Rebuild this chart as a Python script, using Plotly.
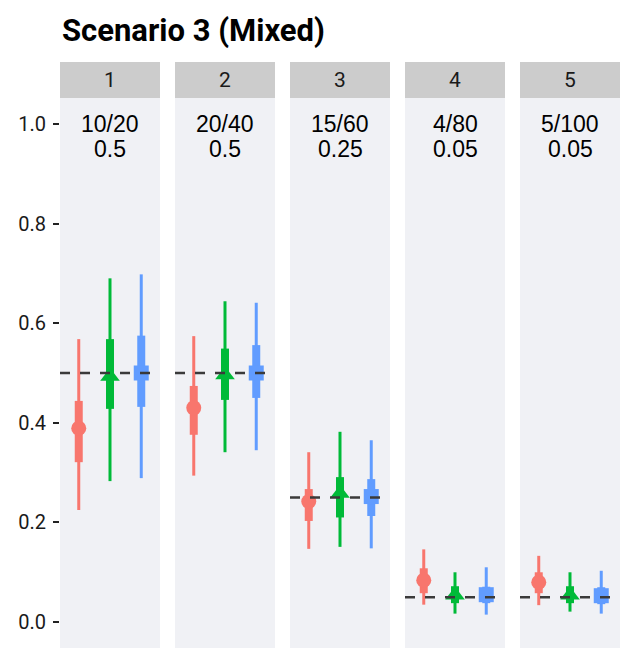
import plotly.graph_objects as go

# Facet panels and their header labels
panels = ["1", "2", "3", "4", "5"]
count_labels = ["10/20", "20/40", "15/60", "4/80", "5/100"]
true_values = [0.5, 0.5, 0.25, 0.05, 0.05]
true_labels = ["0.5", "0.5", "0.25", "0.05", "0.05"]

# Three estimators per panel: point estimate, 50% and 95% intervals
red_est = [0.389, 0.430, 0.242, 0.084, 0.080]
red_lo95 = [0.225, 0.294, 0.147, 0.035, 0.034]
red_hi95 = [0.568, 0.574, 0.341, 0.146, 0.133]
red_lo50 = [0.321, 0.376, 0.203, 0.058, 0.058]
red_hi50 = [0.444, 0.474, 0.267, 0.108, 0.100]

green_est = [0.493, 0.496, 0.258, 0.054, 0.054]
green_lo95 = [0.283, 0.341, 0.151, 0.017, 0.021]
green_hi95 = [0.690, 0.644, 0.382, 0.100, 0.100]
green_lo50 = [0.428, 0.446, 0.210, 0.038, 0.038]
green_hi50 = [0.568, 0.549, 0.291, 0.072, 0.072]

blue_est = [0.500, 0.500, 0.252, 0.055, 0.053]
blue_lo95 = [0.289, 0.345, 0.148, 0.015, 0.017]
blue_hi95 = [0.698, 0.641, 0.365, 0.110, 0.103]
blue_lo50 = [0.432, 0.450, 0.213, 0.038, 0.036]
blue_hi50 = [0.575, 0.556, 0.287, 0.071, 0.070]

y_ticks = [0.0, 0.2, 0.4, 0.6, 0.8, 1.0]
y_tick_text = ["0.0", "0.2", "0.4", "0.6", "0.8", "1.0"]

methods = [
    dict(x=1, color="#F8766D", symbol="circle", size=15,
         est=red_est, lo95=red_lo95, hi95=red_hi95, lo50=red_lo50, hi50=red_hi50),
    dict(x=2, color="#00BA38", symbol="triangle-up", size=17,
         est=green_est, lo95=green_lo95, hi95=green_hi95, lo50=green_lo50, hi50=green_hi50),
    dict(x=3, color="#619CFF", symbol="square", size=15,
         est=blue_est, lo95=blue_lo95, hi95=blue_hi95, lo50=blue_lo50, hi50=blue_hi50),
]

W, H = 628, 649
M_L, M_R, M_T, M_B = 60, 8, 62, 1
plot_w = W - M_L - M_R
plot_h = H - M_T - M_B
panel_w = 100
gap = 15
strip_h = 36
y_top = 1 - strip_h / plot_h

fig = go.Figure()
layout = {}
shapes = []
annotations = []

for i, p in enumerate(panels):
    k = i + 1
    xa = "x" if k == 1 else f"x{k}"
    ya = "y" if k == 1 else f"y{k}"
    x0 = (i * (panel_w + gap)) / plot_w
    x1 = (i * (panel_w + gap) + panel_w) / plot_w

    for m in methods:
        fig.add_trace(go.Scatter(
            x=[m["x"], m["x"]], y=[m["lo95"][i], m["hi95"][i]],
            mode="lines", line=dict(color=m["color"], width=3),
            xaxis=xa, yaxis=ya, showlegend=False, hoverinfo="skip"))
        fig.add_trace(go.Scatter(
            x=[m["x"], m["x"]], y=[m["lo50"][i], m["hi50"][i]],
            mode="lines", line=dict(color=m["color"], width=8),
            xaxis=xa, yaxis=ya, showlegend=False, hoverinfo="skip"))
        fig.add_trace(go.Scatter(
            x=[m["x"]], y=[m["est"][i]], mode="markers",
            marker=dict(color=m["color"], symbol=m["symbol"], size=m["size"],
                        line=dict(width=0)),
            xaxis=xa, yaxis=ya, showlegend=False))

    layout["xaxis" if k == 1 else f"xaxis{k}"] = dict(
        domain=[x0, x1], range=[0.4, 3.6], showticklabels=False, ticks="",
        showgrid=False, zeroline=False, showline=False, anchor=ya, fixedrange=True)
    layout["yaxis" if k == 1 else f"yaxis{k}"] = dict(
        domain=[0, y_top], range=[-0.052, 1.052], showgrid=False, zeroline=False,
        showline=False, anchor=xa, tickvals=y_ticks, ticktext=y_tick_text,
        ticks="outside" if k == 1 else "", ticklen=6, tickwidth=2, tickcolor="#222222",
        showticklabels=(k == 1), ticklabelstandoff=3,
        tickfont=dict(family="Roboto", size=20, color="#1a1a1a"))

    # reference line at the true value
    shapes.append(dict(
        type="line", xref=f"{xa} domain", x0=0, x1=1, yref=ya,
        y0=true_values[i], y1=true_values[i], layer="above",
        line=dict(color="#3a3a3a", width=2.5, dash="10px,10px")))

    # strip header
    shapes.append(dict(
        type="rect", xref="paper", yref="paper", x0=x0, x1=x1,
        y0=y_top, y1=1, fillcolor="#CCCCCC", line=dict(width=0), layer="below"))
    annotations.append(dict(
        text=p, xref="paper", yref="paper", x=(x0 + x1) / 2, y=(y_top + 1) / 2,
        xanchor="center", yanchor="middle", showarrow=False,
        font=dict(family="Roboto", size=21, color="#1a1a1a")))

    # in-panel labels
    annotations.append(dict(
        text=count_labels[i], xref=f"{xa} domain", x=0.5, yref=ya, y=1.0,
        xanchor="center", yanchor="middle", showarrow=False,
        font=dict(family="Liberation Sans", size=23, color="black")))
    annotations.append(dict(
        text=true_labels[i], xref=f"{xa} domain", x=0.5, yref=ya, y=1.0, yshift=-25,
        xanchor="center", yanchor="middle", showarrow=False,
        font=dict(family="Liberation Sans", size=23, color="black")))

# title
annotations.append(dict(
    text="<b>Scenario 3 (Mixed)</b>", xref="paper", yref="paper", x=0,
    y=1 + (M_T - 31) / plot_h, xanchor="left", yanchor="middle", showarrow=False,
    font=dict(family="Roboto", size=31, color="black")))

fig.update_layout(
    width=W, height=H, margin=dict(l=M_L, r=M_R, t=M_T, b=M_B),
    paper_bgcolor="white", plot_bgcolor="#F0F1F5",
    shapes=shapes, annotations=annotations, showlegend=False, **layout)

fig.write_html("out.html")
